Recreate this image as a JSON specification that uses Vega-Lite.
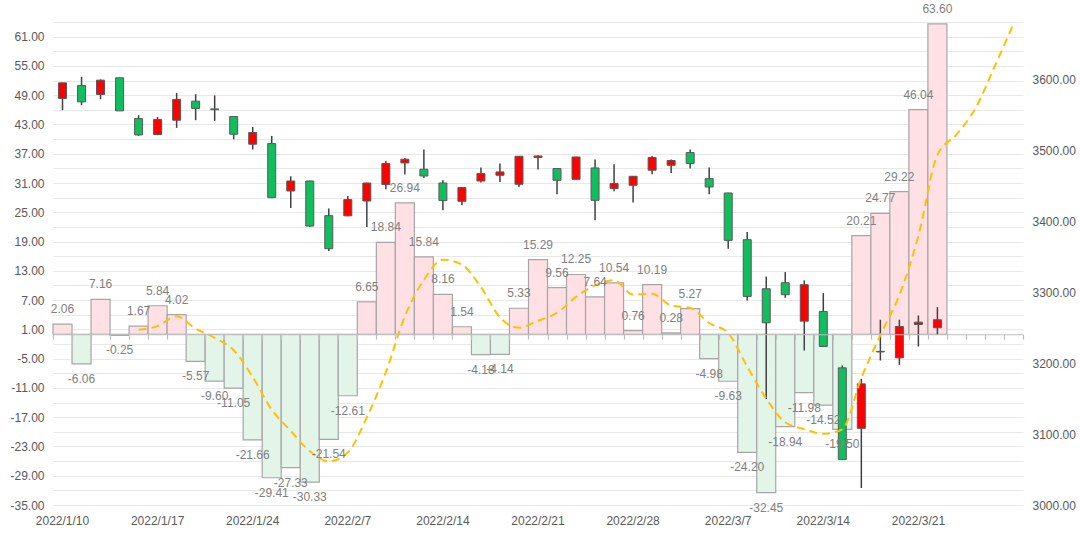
{
  "$schema": "https://vega.github.io/schema/vega-lite/v6.json",
  "width": 970,
  "height": 483,
  "autosize": {"type": "none"},
  "padding": {"left": 53, "top": 22, "right": 57, "bottom": 41},
  "background": "white",
  "config": {
    "view": {"stroke": null},
    "font": "Liberation Sans",
    "locale": {"number": {"decimal": ".", "thousands": ",", "grouping": [3], "currency": ["", ""], "minus": "-"}},
    "axis": {"labelFont": "Liberation Sans", "labelFontSize": 12, "labelColor": "#595959"}
  },
  "data": {
    "values": [
      {"d": "2022/1/10", "v": 2.06, "m": null, "o": 3573.2, "h": 3595.5, "l": 3556.7, "c": 3595.2},
      {"d": "2022/1/11", "v": -6.06, "m": null, "o": 3591.5, "h": 3603.7, "l": 3563.7, "c": 3568.4},
      {"d": "2022/1/12", "v": 7.16, "m": null, "o": 3578.8, "h": 3600.0, "l": 3572.2, "c": 3599.0},
      {"d": "2022/1/13", "v": -0.25, "m": null, "o": 3602.3, "h": 3602.8, "l": 3555.7, "c": 3555.7},
      {"d": "2022/1/14", "v": 1.67, "m": 0.92, "o": 3544.9, "h": 3549.6, "l": 3520.4, "c": 3521.8},
      {"d": "2022/1/17", "v": 5.84, "m": 1.67, "o": 3522.4, "h": 3547.2, "l": 3521.4, "c": 3543.5},
      {"d": "2022/1/18", "v": 4.02, "m": 3.69, "o": 3542.5, "h": 3581.1, "l": 3531.7, "c": 3571.8},
      {"d": "2022/1/19", "v": -5.57, "m": 1.14, "o": 3569.4, "h": 3579.2, "l": 3542.5, "c": 3559.1},
      {"d": "2022/1/20", "v": -9.60, "m": -0.73, "o": 3558.5, "h": 3577.4, "l": 3541.6, "c": 3557.4},
      {"d": "2022/1/21", "v": -11.05, "m": -3.27, "o": 3547.8, "h": 3548.2, "l": 3515.7, "c": 3522.8},
      {"d": "2022/1/24", "v": -21.66, "m": -8.77, "o": 3508.7, "h": 3533.1, "l": 3501.2, "c": 3525.2},
      {"d": "2022/1/25", "v": -29.41, "m": -15.46, "o": 3509.6, "h": 3520.4, "l": 3433.0, "c": 3433.4},
      {"d": "2022/1/26", "v": -27.33, "m": -19.81, "o": 3442.7, "h": 3463.5, "l": 3418.7, "c": 3456.8},
      {"d": "2022/1/27", "v": -30.33, "m": -23.96, "o": 3456.8, "h": 3457.2, "l": 3391.9, "c": 3393.3},
      {"d": "2022/1/28", "v": -21.54, "m": -26.05, "o": 3408.0, "h": 3417.9, "l": 3358.0, "c": 3361.4},
      {"d": "2022/2/7", "v": -12.61, "m": -24.24, "o": 3407.7, "h": 3435.7, "l": 3407.0, "c": 3430.6},
      {"d": "2022/2/8", "v": 6.65, "m": -17.03, "o": 3428.6, "h": 3454.3, "l": 3391.9, "c": 3454.0},
      {"d": "2022/2/9", "v": 18.84, "m": -7.80, "o": 3451.8, "h": 3485.1, "l": 3445.1, "c": 3481.4},
      {"d": "2022/2/10", "v": 26.94, "m": 3.66, "o": 3482.3, "h": 3489.3, "l": 3465.9, "c": 3487.5},
      {"d": "2022/2/11", "v": 15.84, "m": 11.13, "o": 3473.4, "h": 3501.2, "l": 3461.1, "c": 3463.9},
      {"d": "2022/2/14", "v": 8.16, "m": 15.29, "o": 3454.0, "h": 3457.8, "l": 3415.5, "c": 3429.2},
      {"d": "2022/2/15", "v": 1.54, "m": 14.26, "o": 3428.2, "h": 3448.4, "l": 3422.5, "c": 3447.5},
      {"d": "2022/2/16", "v": -4.18, "m": 9.66, "o": 3456.8, "h": 3475.8, "l": 3454.6, "c": 3467.3},
      {"d": "2022/2/17", "v": -4.14, "m": 3.44, "o": 3464.9, "h": 3481.4, "l": 3455.4, "c": 3469.6},
      {"d": "2022/2/18", "v": 5.33, "m": 1.34, "o": 3452.2, "h": 3492.0, "l": 3448.4, "c": 3491.7},
      {"d": "2022/2/21", "v": 15.29, "m": 2.77, "o": 3489.9, "h": 3493.1, "l": 3472.9, "c": 3492.1},
      {"d": "2022/2/22", "v": 9.56, "m": 4.37, "o": 3474.4, "h": 3474.8, "l": 3438.1, "c": 3457.8},
      {"d": "2022/2/23", "v": 12.25, "m": 7.66, "o": 3459.2, "h": 3491.0, "l": 3459.0, "c": 3490.7},
      {"d": "2022/2/24", "v": 7.64, "m": 10.01, "o": 3475.2, "h": 3487.1, "l": 3401.4, "c": 3429.6},
      {"d": "2022/2/25", "v": 10.54, "m": 11.06, "o": 3446.1, "h": 3480.4, "l": 3442.3, "c": 3453.2},
      {"d": "2022/2/28", "v": 0.76, "m": 8.15, "o": 3450.8, "h": 3463.8, "l": 3426.4, "c": 3463.5},
      {"d": "2022/3/1", "v": 10.19, "m": 8.28, "o": 3472.0, "h": 3492.1, "l": 3466.3, "c": 3489.9},
      {"d": "2022/3/2", "v": 0.28, "m": 5.88, "o": 3479.0, "h": 3487.1, "l": 3468.1, "c": 3485.7},
      {"d": "2022/3/3", "v": 5.27, "m": 5.41, "o": 3496.9, "h": 3501.2, "l": 3474.4, "c": 3481.4},
      {"d": "2022/3/4", "v": -4.98, "m": 2.30, "o": 3460.2, "h": 3475.8, "l": 3438.1, "c": 3448.4},
      {"d": "2022/3/7", "v": -9.63, "m": 0.23, "o": 3439.9, "h": 3440.3, "l": 3361.4, "c": 3373.1},
      {"d": "2022/3/8", "v": -24.20, "m": -6.65, "o": 3374.1, "h": 3384.8, "l": 3288.4, "c": 3294.1},
      {"d": "2022/3/9", "v": -32.45, "m": -13.20, "o": 3304.9, "h": 3322.3, "l": 3149.6, "c": 3256.9},
      {"d": "2022/3/10", "v": -18.94, "m": -18.04, "o": 3313.4, "h": 3328.4, "l": 3292.2, "c": 3296.5},
      {"d": "2022/3/11", "v": -11.98, "m": -19.44, "o": 3259.2, "h": 3316.7, "l": 3217.8, "c": 3310.6},
      {"d": "2022/3/14", "v": -14.52, "m": -20.42, "o": 3272.9, "h": 3298.7, "l": 3223.0, "c": 3223.5},
      {"d": "2022/3/15", "v": -19.50, "m": -19.48, "o": 3193.4, "h": 3196.7, "l": 3063.5, "c": 3064.0},
      {"d": "2022/3/16", "v": 20.21, "m": -8.95, "o": 3108.1, "h": 3177.9, "l": 3024.0, "c": 3170.8},
      {"d": "2022/3/17", "v": 24.77, "m": -0.20, "o": 3215.8, "h": 3261.2, "l": 3203.7, "c": 3216.6},
      {"d": "2022/3/18", "v": 29.22, "m": 8.04, "o": 3207.5, "h": 3261.2, "l": 3197.6, "c": 3251.7},
      {"d": "2022/3/21", "v": 46.04, "m": 20.15, "o": 3254.5, "h": 3267.2, "l": 3223.5, "c": 3257.8},
      {"d": "2022/3/22", "v": 63.60, "m": 36.77, "o": 3249.9, "h": 3279.0, "l": 3240.0, "c": 3261.2},
      {"d": "2022/3/23", "v": null, "m": 40.91, "o": null, "h": null, "l": null, "c": null},
      {"d": "2022/3/24", "v": null, "m": 46.29, "o": null, "h": null, "l": null, "c": null},
      {"d": "2022/3/25", "v": null, "m": 54.82, "o": null, "h": null, "l": null, "c": null},
      {"d": "2022/3/28", "v": null, "m": 63.60, "o": null, "h": null, "l": null, "c": null}
    ]
  },
  "layer": [
    {
      "mark": {"type": "bar", "stroke": "#A6A6A6", "strokeWidth": 1.2, "width": {"band": 1}},
      "encoding": {
        "x": {
          "field": "d", "type": "ordinal", "sort": null,
          "scale": {"domain": ["2022/1/10","2022/1/11","2022/1/12","2022/1/13","2022/1/14","2022/1/17","2022/1/18","2022/1/19","2022/1/20","2022/1/21","2022/1/24","2022/1/25","2022/1/26","2022/1/27","2022/1/28","2022/2/7","2022/2/8","2022/2/9","2022/2/10","2022/2/11","2022/2/14","2022/2/15","2022/2/16","2022/2/17","2022/2/18","2022/2/21","2022/2/22","2022/2/23","2022/2/24","2022/2/25","2022/2/28","2022/3/1","2022/3/2","2022/3/3","2022/3/4","2022/3/7","2022/3/8","2022/3/9","2022/3/10","2022/3/11","2022/3/14","2022/3/15","2022/3/16","2022/3/17","2022/3/18","2022/3/21","2022/3/22","2022/3/23","2022/3/24","2022/3/25","2022/3/28"], "paddingInner": 0, "paddingOuter": 0},
          "axis": {"values": ["2022/1/10","2022/1/17","2022/1/24","2022/2/7","2022/2/14","2022/2/21","2022/2/28","2022/3/7","2022/3/14","2022/3/21"], "title": null, "domain": false, "ticks": false, "tickSize": 0, "labelAngle": 0, "labelPadding": 10, "grid": false}
        },
        "y": {
          "field": "v", "type": "quantitative",
          "scale": {"domain": [-35, 64], "nice": false, "zero": false},
          "axis": {"orient": "left", "values": [-35,-32,-29,-26,-23,-20,-17,-14,-11,-8,-5,-2,1,4,7,10,13,16,19,22,25,28,31,34,37,40,43,46,49,52,55,58,61,64], "format": ".2f", "labelExpr": "(datum.value + 35) % 6 == 0 ? datum.label : ''", "title": null, "domain": false, "ticks": false, "tickSize": 0, "grid": true, "gridColor": "#E8E8E8", "gridWidth": 1.2, "labelPadding": 9, "zindex": 0}
        },
        "y2": {"datum": 0},
        "fill": {"condition": {"test": "datum.v >= 0", "value": "#FFE1E5"}, "value": "#E3F4E9"}
      }
    },
    {
      "encoding": {
        "x": {"field": "d", "type": "ordinal", "sort": null, "axis": null}
      },
      "layer": [
        {
          "mark": {"type": "rule", "color": "#404040", "strokeWidth": 1.5},
          "encoding": {
            "y": {
              "field": "l", "type": "quantitative",
              "scale": {"domain": [3000, 3681], "nice": false, "zero": false},
              "axis": {"orient": "right", "values": [3000,3100,3200,3300,3400,3500,3600], "format": ".2f", "title": null, "domain": false, "ticks": false, "tickSize": 0, "grid": false, "labelPadding": 9}
            },
            "y2": {"field": "h"}
          }
        },
        {
          "mark": {"type": "bar", "width": {"band": 0.42}, "stroke": "#595959", "strokeWidth": 1},
          "encoding": {
            "y": {"field": "o", "type": "quantitative"},
            "y2": {"field": "c"},
            "fill": {"condition": {"test": "datum.c >= datum.o", "value": "#FF0000"}, "value": "#10BE5E"}
          }
        }
      ]
    },
    {
      "encoding": {
        "x": {
          "field": "d", "type": "ordinal", "sort": null,
          "axis": {"orient": "bottom", "offset": -170.76, "labels": false, "ticks": true, "tickBand": "extent", "tickSize": 5, "tickColor": "#BFBFBF", "tickWidth": 1.2, "domain": true, "domainColor": "#BFBFBF", "domainWidth": 1.2, "grid": false, "title": null, "zindex": 1}
        }
      },
      "layer": [
        {
          "mark": {"type": "line", "color": "#FFC000", "strokeWidth": 2, "strokeDash": [8, 5], "interpolate": "monotone"},
          "encoding": {
            "y": {"field": "m", "type": "quantitative", "scale": {"domain": [-35, 64], "nice": false, "zero": false}, "axis": null}
          }
        },
        {
          "transform": [{"filter": "isValid(datum.v) && datum.v >= 0"}],
          "mark": {"type": "text", "dy": -15, "fontSize": 12, "color": "#808080", "font": "Liberation Sans"},
          "encoding": {
            "y": {"field": "v", "type": "quantitative"},
            "text": {"field": "v", "type": "quantitative", "format": ".2f"}
          }
        },
        {
          "transform": [{"filter": "isValid(datum.v) && datum.v < 0"}],
          "mark": {"type": "text", "dy": 15, "fontSize": 12, "color": "#808080", "font": "Liberation Sans"},
          "encoding": {
            "y": {"field": "v", "type": "quantitative"},
            "text": {"field": "v", "type": "quantitative", "format": ".2f"}
          }
        }
      ]
    }
  ],
  "resolve": {"scale": {"y": "independent"}, "axis": {"x": "independent"}}
}
